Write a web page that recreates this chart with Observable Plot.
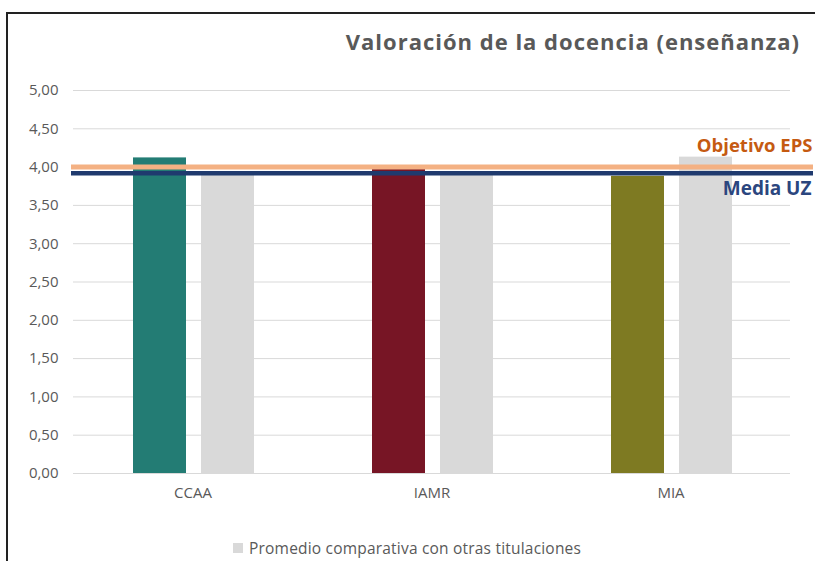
<!DOCTYPE html>
<html>
<head>
<meta charset="utf-8">
<script src="https://cdn.jsdelivr.net/npm/d3@7"></script>
<script src="https://cdn.jsdelivr.net/npm/@observablehq/plot@0.6"></script>
<style>
  html, body { margin: 0; padding: 0; background: #fff; }
  #wrap { position: relative; width: 815px; height: 561px; overflow: hidden; font-family: "Open Sans", "Liberation Sans", Arial, sans-serif; }
  #frame { position: absolute; left: 6px; top: 12px; width: 820px; height: 560px; border-left: 2px solid #222; border-top: 2px solid #222; }
  #chart { position: absolute; left: 0; top: 0; }
  #title { position: absolute; right: 15px; top: 26px; font-size: 22px; letter-spacing: 1px; font-weight: bold; color: #595959; white-space: nowrap; }
  #legend { position: absolute; left: 233px; top: 537px; font-size: 15.5px; letter-spacing: 0.2px; color: #595959; white-space: nowrap; display: flex; align-items: center; }
  #legend .sw { width: 10px; height: 10px; background: #d9d9d9; margin-right: 6px; display: inline-block; }
  #chart svg text.lbl { letter-spacing: 0.8px; }
</style>
</head>
<body>
<div id="wrap">
  <div id="frame"></div>
  <div id="chart"></div>
  <div id="title">Valoración de la docencia (enseñanza)</div>
  <div id="legend"><span class="sw"></span>Promedio comparativa con otras titulaciones</div>
</div>
<script>
const categories = ["CCAA", "IAMR", "MIA"];
const valores = [4.12, 3.98, 3.88];
const promedio = [3.94, 3.94, 4.13];
const colores = ["#237C74", "#771525", "#7E7A22"];
const objetivoEPS = 4.0;
const mediaUZ = 3.92;
const yTicks = [0, 0.5, 1, 1.5, 2, 2.5, 3, 3.5, 4, 4.5, 5];
const serieLabel = "Promedio comparativa con otras titulaciones";

const data = categories.map((c, i) => ({cat: c, valor: valores[i], prom: promedio[i], color: colores[i]}));

const chart = Plot.plot({
  width: 815,
  height: 561,
  marginTop: 90,
  marginBottom: 88,
  marginLeft: 73,
  marginRight: 25,
  style: { fontFamily: "Open Sans, Liberation Sans, Arial, sans-serif", fontSize: "15px", color: "#595959", background: "transparent" },
  x: { domain: categories, padding: 0, label: null, tickSize: 0, tickPadding: 14 },
  y: { domain: [0, 5], ticks: yTicks, tickFormat: d => d.toFixed(2).replace(".", ","), label: null, tickSize: 0, tickPadding: 15 },
  color: { type: "identity" },
  marks: [
    Plot.gridY(yTicks, { stroke: "#d9d9d9", strokeOpacity: 1, strokeWidth: 1 }),
    Plot.barY(data, { x: "cat", y: "valor", fill: "color", insetLeft: 60, insetRight: 126 }),
    Plot.barY(data, { x: "cat", y: "prom", fill: "#d9d9d9", insetLeft: 128, insetRight: 58 }),
    Plot.ruleY([objetivoEPS], { stroke: "#F4B183", strokeWidth: 5, insetLeft: -2, insetRight: -23 }),
    Plot.ruleY([mediaUZ], { stroke: "#1F3A6E", strokeWidth: 4.5, insetLeft: -2, insetRight: -23 }),
    Plot.text([objetivoEPS], { y: d => d, text: () => "Objetivo EPS", frameAnchor: "right", textAnchor: "end", dx: 22, dy: -21, fill: "#C55A11", fontWeight: "bold", fontSize: 18.5, className: "lbl" }),
    Plot.text([mediaUZ], { y: d => d, text: () => "Media UZ", frameAnchor: "right", textAnchor: "end", dx: 21, dy: 16, fill: "#2B467E", fontWeight: "bold", fontSize: 19, className: "lbl" })
  ]
});
document.getElementById("chart").appendChild(chart);
</script>
</body>
</html>
